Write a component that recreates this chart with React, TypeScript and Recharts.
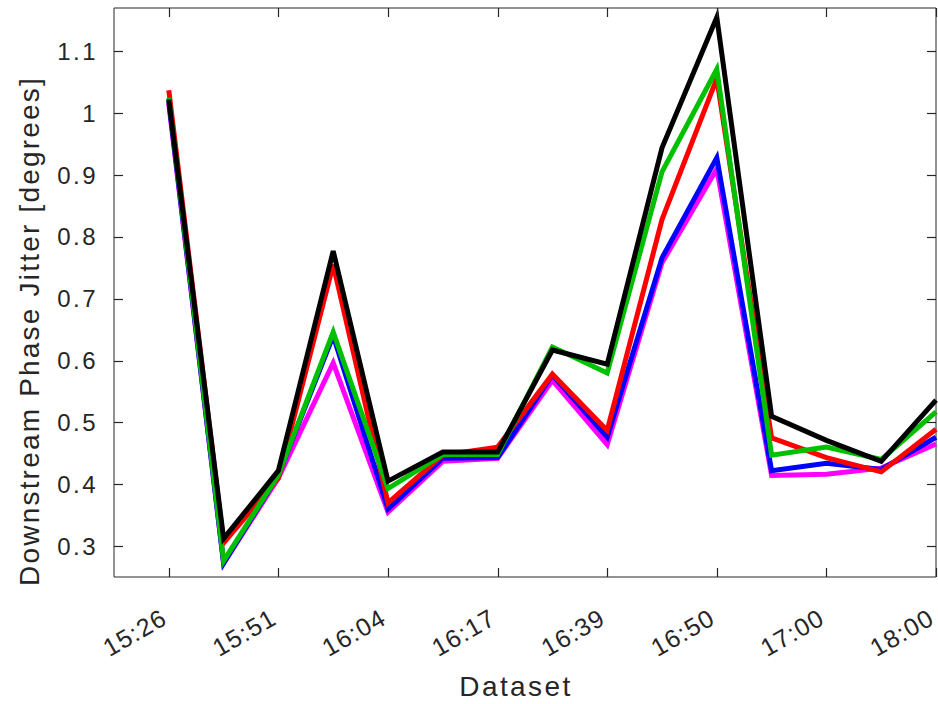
import React from 'react';
import { LineChart, Line, XAxis, YAxis, Label, ReferenceLine } from 'recharts';

// dataset index 1..15, labels only on every other one
const tickIdx = [1, 3, 5, 7, 9, 11, 13, 15];
const tickTimes = ['15:26', '15:51', '16:04', '16:17', '16:39', '16:50', '17:00', '18:00'];
const yTicks = [0.3, 0.4, 0.5, 0.6, 0.7, 0.8, 0.9, 1, 1.1];
const xDomain = [0, 15];
const yDomain = [0.25, 1.17];

const red = [1.037, 0.305, 0.41, 0.755, 0.37, 0.447, 0.46, 0.578, 0.487, 0.828, 1.056, 0.475, 0.443, 0.42, 0.489];
const blue = [1.02, 0.272, 0.415, 0.64, 0.36, 0.442, 0.443, 0.577, 0.476, 0.766, 0.928, 0.422, 0.434, 0.424, 0.476];
const magenta = [1.015, 0.272, 0.41, 0.596, 0.355, 0.437, 0.442, 0.568, 0.464, 0.758, 0.91, 0.414, 0.416, 0.426, 0.465];
const green = [1.025, 0.276, 0.415, 0.646, 0.393, 0.448, 0.448, 0.622, 0.58, 0.905, 1.071, 0.447, 0.46, 0.44, 0.517];
const black = [1.022, 0.312, 0.422, 0.777, 0.405, 0.452, 0.452, 0.617, 0.594, 0.944, 1.155, 0.51, 0.471, 0.437, 0.536];

const chartData = red.map((_, i) => ({
  idx: i + 1,
  red: red[i],
  blue: blue[i],
  magenta: magenta[i],
  green: green[i],
  black: black[i],
}));

const W = 938;
const H = 704;
const PLOT_LEFT = 114;
const PLOT_RIGHT = 936;
const PLOT_TOP = 8;
const PLOT_BOTTOM = 577;
const TICK_LEN = 9;
const AXIS_COLOR = '#262626';
const FONT = '"Liberation Sans", Arial, Helvetica, sans-serif';

// label + inward ticks on bottom and top edges
const XTick = ({ x, payload }: any) => {
  const i = tickIdx.indexOf(payload.value);
  const px = Math.round(x) + 0.5;
  const ly = PLOT_BOTTOM + 46;
  return (
    <g>
      <path d={`M${px},${PLOT_BOTTOM}V${PLOT_BOTTOM - TICK_LEN}`} stroke={AXIS_COLOR} strokeWidth={1.2} fill="none" />
      <path d={`M${px},${PLOT_TOP}V${PLOT_TOP + TICK_LEN}`} stroke={AXIS_COLOR} strokeWidth={1.2} fill="none" />
      <text
        x={x}
        y={ly}
        transform={`rotate(-30, ${x}, ${ly})`}
        textAnchor="end"
        fontSize={25}
        letterSpacing={1.2}
        fill={AXIS_COLOR}
        fontFamily={FONT}
      >
        {i >= 0 ? tickTimes[i] : ''}
      </text>
    </g>
  );
};

// label + inward ticks on left and right edges
const YTick = ({ y, payload }: any) => {
  const py = Math.round(y) + 0.5;
  return (
    <g>
      <path d={`M${PLOT_LEFT},${py}H${PLOT_LEFT + TICK_LEN}`} stroke={AXIS_COLOR} strokeWidth={1.2} fill="none" />
      <path d={`M${PLOT_RIGHT},${py}H${PLOT_RIGHT - TICK_LEN}`} stroke={AXIS_COLOR} strokeWidth={1.2} fill="none" />
      <text
        x={98}
        y={y}
        dy="0.36em"
        textAnchor="end"
        fontSize={24}
        letterSpacing={2.5}
        fill={AXIS_COLOR}
        fontFamily={FONT}
      >
        {String(payload.value)}
      </text>
    </g>
  );
};

const XTitle = () => (
  <text x={516} y={696} textAnchor="middle" fontSize={28} letterSpacing={2.4} fill={AXIS_COLOR} fontFamily={FONT}>
    Dataset
  </text>
);

const YTitle = () => (
  <text
    x={39}
    y={331}
    transform="rotate(-90, 39, 331)"
    textAnchor="middle"
    fontSize={28}
    letterSpacing={2.2}
    fill={AXIS_COLOR}
    fontFamily={FONT}
  >
    Downstream Phase Jitter [degrees]
  </text>
);

export default function App() {
  return (
    <div style={{ position: 'absolute', left: 0, top: 0, width: W, height: H, background: '#fff' }}>
      <LineChart width={W} height={H} data={chartData} margin={{ top: PLOT_TOP, right: W - PLOT_RIGHT, bottom: 0, left: 0 }}>
        <XAxis
          dataKey="idx"
          type="number"
          domain={xDomain}
          ticks={tickIdx}
          interval={0}
          height={H - PLOT_BOTTOM}
          tickSize={0}
          tickMargin={0}
          tickLine={false}
          tick={<XTick />}
          axisLine={{ stroke: AXIS_COLOR }}
        >
          <Label content={<XTitle />} />
        </XAxis>
        <YAxis
          type="number"
          domain={yDomain}
          allowDataOverflow
          ticks={yTicks}
          interval={0}
          width={PLOT_LEFT}
          tickSize={0}
          tickMargin={0}
          tickLine={false}
          tick={<YTick />}
          axisLine={{ stroke: AXIS_COLOR }}
        >
          <Label content={<YTitle />} />
        </YAxis>
        {/* box: top and right edges */}
        <ReferenceLine y={yDomain[1]} stroke={AXIS_COLOR} strokeWidth={1} />
        <ReferenceLine x={xDomain[1]} stroke={AXIS_COLOR} strokeWidth={1} />
        <Line dataKey="magenta" stroke="#ff00ff" strokeWidth={5} dot={false} isAnimationActive={false} />
        <Line dataKey="blue" stroke="#0000ff" strokeWidth={5} dot={false} isAnimationActive={false} />
        <Line dataKey="red" stroke="#ff0000" strokeWidth={5} dot={false} isAnimationActive={false} />
        <Line dataKey="green" stroke="#00c000" strokeWidth={5} dot={false} isAnimationActive={false} />
        <Line dataKey="black" stroke="#000000" strokeWidth={5} dot={false} isAnimationActive={false} />
      </LineChart>
    </div>
  );
}
